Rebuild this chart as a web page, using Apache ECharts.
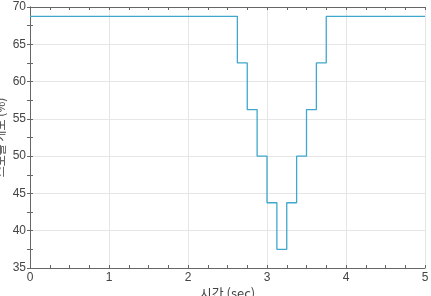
<!DOCTYPE html>
<html><head><meta charset="utf-8">
<script src="https://cdn.jsdelivr.net/npm/echarts@6/dist/echarts.min.js"></script>
<style>html,body{margin:0;padding:0;background:#fff}#c{width:431px;height:296px}</style>
</head><body><div id="c"></div>
<script>
const times = [0, 2.625, 2.75, 2.875, 3.0, 3.125, 3.25, 3.375, 3.5, 3.625, 3.75, 5];
const values = [68.75, 62.5, 56.25, 50, 43.75, 37.5, 43.75, 50, 56.25, 62.5, 68.75, 68.75];
const xTitle = '시간 (sec)';
const yTitle = '스로틀 개도 (%)';

const font = '"Liberation Sans", Arial, sans-serif';
const axisLineStyle = {color: '#666', width: 1};
const chart = echarts.init(document.getElementById('c'), null, {renderer: 'canvas'});
const baseX = {type: 'value', min: 0, max: 5, interval: 1};
const baseY = {type: 'value', min: 35, max: 70, interval: 5};
chart.setOption({
  animation: false,
  grid: {left: 30, right: 6, top: 7, bottom: 28, containLabel: false, outerBoundsMode: 'none'},
  xAxis: [
    Object.assign({}, baseX, {
      position: 'bottom',
      name: xTitle, nameLocation: 'middle', nameGap: 19, nameMoveOverlap: false,
      nameTextStyle: {fontFamily: '"Noto Sans CJK KR", sans-serif', fontSize: 13, color: '#444'},
      axisLine: {show: true, lineStyle: axisLineStyle},
      axisTick: {show: true, inside: true, length: 3, lineStyle: {color: '#666'}},
      minorTick: {show: true, splitNumber: 4, length: 3, lineStyle: {color: '#666'}},
      axisLabel: {fontFamily: font, fontSize: 12, color: '#444', margin: 4},
      splitLine: {show: true, lineStyle: {color: '#e6e6e6', width: 1}}
    }),
    Object.assign({}, baseX, {
      position: 'top',
      axisLine: {show: true, lineStyle: axisLineStyle},
      axisTick: {show: true, inside: true, length: 3, lineStyle: {color: '#666'}},
      minorTick: {show: true, splitNumber: 4, length: 3, lineStyle: {color: '#666'}},
      axisLabel: {show: false},
      splitLine: {show: false}
    })
  ],
  yAxis: [
    Object.assign({}, baseY, {
      position: 'left',
      name: yTitle, nameLocation: 'middle', nameGap: 24, nameMoveOverlap: false,
      nameTextStyle: {fontFamily: '"Noto Sans CJK KR", sans-serif', fontSize: 12, color: '#444'},
      axisLine: {show: true, lineStyle: axisLineStyle},
      axisTick: {show: true, inside: true, length: 3, lineStyle: {color: '#666'}},
      minorTick: {show: true, splitNumber: 2, length: 3, lineStyle: {color: '#666'}},
      axisLabel: {fontFamily: font, fontSize: 12, color: '#444', margin: 4},
      splitLine: {show: true, lineStyle: {color: '#e6e6e6', width: 1}}
    }),
    Object.assign({}, baseY, {
      position: 'right',
      axisLine: {show: true, lineStyle: axisLineStyle},
      axisTick: {show: true, inside: true, length: 3, lineStyle: {color: '#666'}},
      minorTick: {show: true, splitNumber: 2, length: 3, lineStyle: {color: '#666'}},
      axisLabel: {show: false},
      splitLine: {show: false}
    })
  ],
  series: [{
    type: 'line',
    step: 'end',
    xAxisIndex: 0, yAxisIndex: 0,
    data: times.map((t, i) => [t, values[i]]),
    showSymbol: false,
    lineStyle: {color: '#3fa8cc', width: 1.3}
  }]
});
</script></body></html>
